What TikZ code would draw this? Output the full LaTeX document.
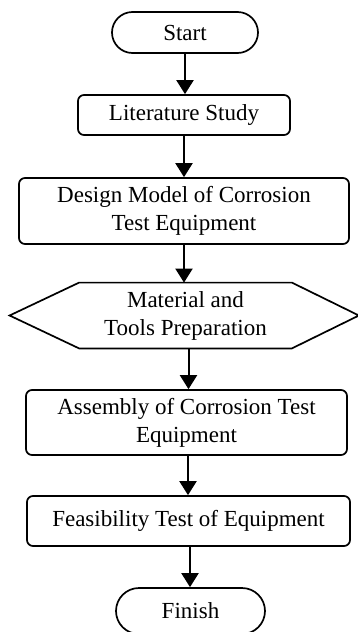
\documentclass[tikz,border=0pt]{standalone}
\usepackage{fontspec}
\setmainfont{Liberation Serif}
\usetikzlibrary{arrows.meta,calc,shapes.misc}
\begin{document}
\begin{tikzpicture}[x=0.5pt,y=-0.5pt,
  every node/.style={font=\fontsize{11.5pt}{14pt}\selectfont, align=center, inner sep=0pt},
  procbox/.style={draw, line width=0.85pt, rounded corners=3pt},
  termbox/.style={draw, line width=0.85pt, rounded rectangle},
  flow/.style={line width=1pt, -{Triangle[width=8.5pt,length=7pt]}}]
\useasboundingbox (0,0) rectangle (358,632);
\clip (0,0) rectangle (358,632);
\node[termbox, minimum width=73pt, minimum height=20.5pt] (start) at (185,32.5) {Start};
\node[procbox, minimum width=106pt, minimum height=20pt] (lit) at (184,115) {Literature Study};
\node[procbox, minimum width=165pt, minimum height=33pt] (design) at (184,211) {Design Model of Corrosion\\Test Equipment};
\node[minimum width=106pt, minimum height=32.5pt] (prep) at (185.5,315.5) {Material and\\Tools Preparation};
\draw[line width=0.85pt] (prep.north west) -- (prep.north east) -- ($(prep.east)+(67,0)$) -- (prep.south east) -- (prep.south west) -- ($(prep.west)+(-69.5,0)$) -- cycle;
\node[procbox, minimum width=160.5pt, minimum height=32.5pt] (asm) at (186.5,422.5) {Assembly of Corrosion Test\\Equipment};
\node[procbox, minimum width=161.5pt, minimum height=25pt] (feas) at (188.5,521) {Feasibility Test of Equipment};
\node[termbox, minimum width=74.5pt, minimum height=23pt] (finish) at (190.5,611) {Finish};
\draw[flow] (start.south) -- (start.south |- lit.north);
\draw[flow] (lit.south) -- (lit.south |- design.north);
\draw[flow] (design.south) -- (design.south |- prep.north);
\draw[flow] ([xshift=1.5pt]prep.south) -- ([xshift=1.5pt]prep.south |- asm.north);
\draw[flow] ([xshift=0.75pt]asm.south) -- ([xshift=0.75pt]asm.south |- feas.north);
\draw[flow] ([xshift=0.75pt]feas.south) -- ([xshift=0.75pt]feas.south |- finish.north);
\end{tikzpicture}
\end{document}
